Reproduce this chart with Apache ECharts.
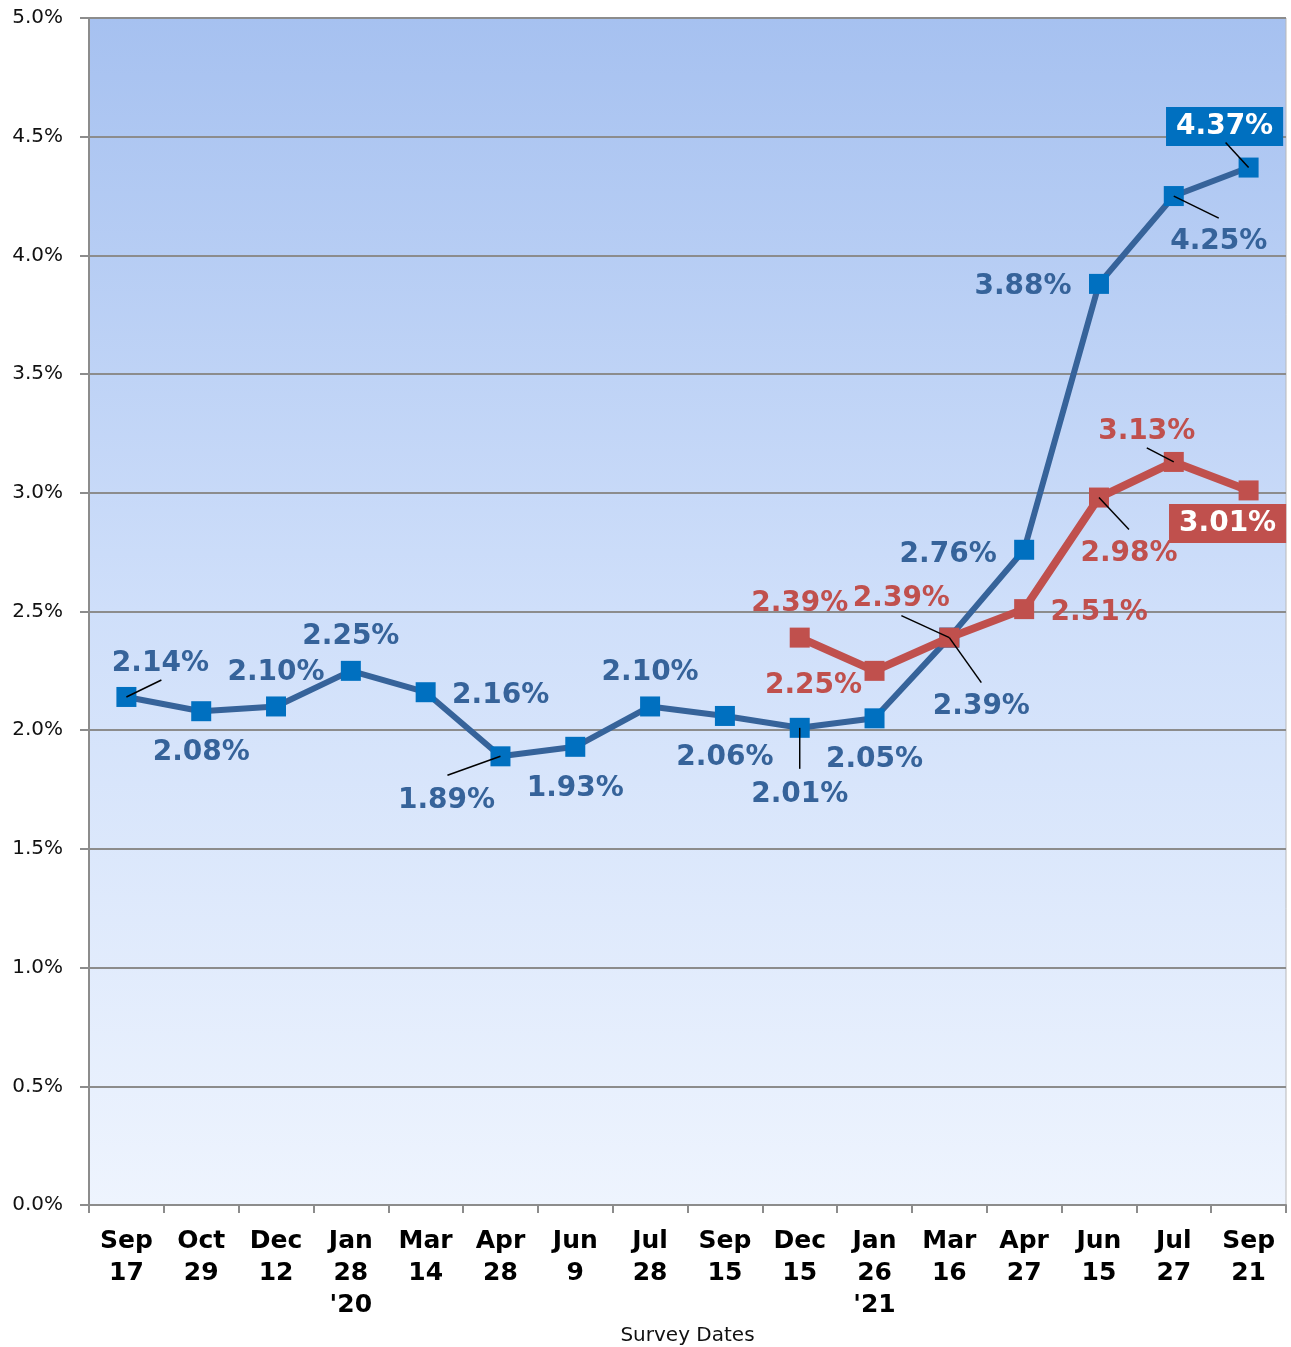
<!DOCTYPE html>
<html>
<head>
<meta charset="utf-8">
<script src="https://cdn.jsdelivr.net/npm/echarts@6/dist/echarts.min.js"></script>
<style>
  html, body { margin: 0; padding: 0; background: #fff; }
  #main { width: 1291px; height: 1347px; }
</style>
</head>
<body>
<div id="main"></div>
<script>
// 数据
var categories = ['Sep\n17', 'Oct\n29', 'Dec\n12', "Jan\n28\n'20", 'Mar\n14', 'Apr\n28', 'Jun\n9', 'Jul\n28',
  'Sep\n15', 'Dec\n15', "Jan\n26\n'21", 'Mar\n16', 'Apr\n27', 'Jun\n15', 'Jul\n27', 'Sep\n21'];
var blueValues = [2.14, 2.08, 2.10, 2.25, 2.16, 1.89, 1.93, 2.10, 2.06, 2.01, 2.05, 2.39, 2.76, 3.88, 4.25, 4.37];
var redValues = [null, null, null, null, null, null, null, null, null, 2.39, 2.25, 2.39, 2.51, 2.98, 3.13, 3.01];
var yTicks = [0, 0.5, 1, 1.5, 2, 2.5, 3, 3.5, 4, 4.5, 5];

// 标签的位置 (相对数据点中心的偏移, 像素)
var blueShift = [[34, -36], [0, 39], [0, -37], [0, -37], [75, 1], [-54, 41], [0, 39], [0, -37],
  [0, 39], [0, 64], [0, 38], [32, 66], [-76, 2], [-76, 0], [45, 43], [-24, -44]];
var redShift = [null, null, null, null, null, null, null, null, null,
  [0, -37], [-61, 12], [-48, -42], [75, 1], [30, 53], [-27, -33], [-21, 30]];
var LABEL_NUDGE = 3;

// 引导线: [数据下标, 终点偏移x, 终点偏移y]
var blueLeader = [[0, 35, -17], [5, -53, 19], [9, 0, 41], [11, 32, 45], [14, 45, 22], [15, -23, -25]];
var redLeader = [[11, -48, -22], [13, 30, 32], [14, -27, -14]];

var BLUE_LINE = '#36639A', BLUE_MARK = '#0070C0', RED = '#C0504D';
var labelFont = { fontFamily: 'DejaVu Sans', fontWeight: 'bold', fontSize: 28 };

function buildData(values, boxIndex, boxColor) {
  return values.map(function (v, i) {
    if (v == null) return null;
    var item = { value: v };
    if (i === boxIndex) {
      item.label = { color: '#fff', backgroundColor: boxColor, padding: [7, 10, 4, 10] };
    }
    return item;
  });
}

function leaderData(values, leaders) {
  return leaders.map(function (l) {
    return [l[0], values[l[0]], l[1], l[2]];
  });
}

function renderLeader(params, api) {
  var p = api.coord([api.value(0), api.value(1)]);
  return {
    type: 'line',
    shape: { x1: p[0], y1: p[1], x2: p[0] + api.value(2), y2: p[1] + api.value(3) },
    style: { stroke: '#000', lineWidth: 1.5 }
  };
}

var chart = echarts.init(document.getElementById('main'));

var option = {
  backgroundColor: '#fff',
  animation: false,
  grid: {
    left: 89, right: 5, top: 18, bottom: 142,
    outerBoundsMode: 'none',
    show: true,
    borderColor: '#b8b8b8',
    borderWidth: 1,
    backgroundColor: new echarts.graphic.LinearGradient(0, 0, 0, 1, [
      { offset: 0, color: '#A6C1F0' },
      { offset: 0.5, color: '#CFDFFA' },
      { offset: 1, color: '#EEF4FE' }
    ])
  },
  xAxis: {
    type: 'category',
    data: categories,
    name: 'Survey Dates',
    nameLocation: 'middle',
    nameGap: 119,
    nameTextStyle: { fontFamily: 'DejaVu Sans', fontSize: 20, color: '#111' },
    axisLine: { lineStyle: { color: '#8c8c8c', width: 2 } },
    axisTick: { show: true, length: 8, lineStyle: { color: '#8c8c8c', width: 2 } },
    axisLabel: {
      interval: 0, margin: 20,
      fontFamily: 'DejaVu Sans', fontWeight: 'bold', fontSize: 25, lineHeight: 32, color: '#000'
    }
  },
  yAxis: {
    type: 'value',
    min: yTicks[0], max: yTicks[yTicks.length - 1], interval: 0.5,
    axisLine: { show: true, lineStyle: { color: '#8c8c8c', width: 2 } },
    axisTick: { show: true, length: 9, lineStyle: { color: '#8c8c8c', width: 2 } },
    axisLabel: {
      margin: 26,
      fontFamily: 'DejaVu Sans', fontSize: 20, color: '#111',
      formatter: function (v) { return v.toFixed(1) + '%'; }
    },
    splitLine: { lineStyle: { color: '#8c8c8c', width: 2 } }
  },
  series: [
    {
      type: 'line',
      data: buildData(blueValues, 15, BLUE_MARK),
      symbol: 'rect', symbolSize: 20,
      lineStyle: { color: BLUE_LINE, width: 6 },
      itemStyle: { color: BLUE_MARK },
      label: Object.assign({
        show: true, position: 'inside', color: BLUE_LINE,
        formatter: function (p) { return p.value.toFixed(2) + '%'; }
      }, labelFont),
      labelLayout: function (p) {
        var s = blueShift[p.dataIndex];
        return { dx: s[0], dy: s[1] + LABEL_NUDGE };
      },
      z: 2
    },
    {
      type: 'line',
      data: buildData(redValues, 15, RED),
      symbol: 'rect', symbolSize: 20,
      lineStyle: { color: RED, width: 8 },
      itemStyle: { color: RED },
      label: Object.assign({
        show: true, position: 'inside', color: RED,
        formatter: function (p) { return p.value.toFixed(2) + '%'; }
      }, labelFont),
      labelLayout: function (p) {
        var s = redShift[p.dataIndex];
        return s ? { dx: s[0], dy: s[1] + LABEL_NUDGE } : {};
      },
      z: 3
    },
    {
      type: 'custom',
      data: leaderData(blueValues, blueLeader).concat(leaderData(redValues, redLeader)),
      renderItem: renderLeader,
      silent: true,
      z: 5
    }
  ]
};

chart.setOption(option);
</script>
</body>
</html>
